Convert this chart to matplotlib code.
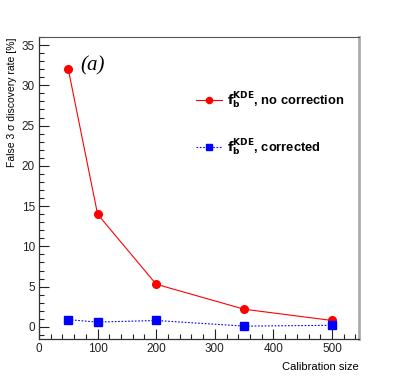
import numpy as np
import matplotlib.pyplot as plt
from matplotlib.ticker import MultipleLocator

# calibration sizes and false 3 sigma discovery rate [%]
calib = [50, 100, 200, 350, 500]
rate_nocorr = [32.0, 14.0, 5.3, 2.2, 0.8]
rate_corr = [0.9, 0.6, 0.8, 0.1, 0.2]

plt.rcParams['font.family'] = ['Liberation Sans', 'DejaVu Sans']

fig = plt.figure(figsize=(3.99, 3.77), dpi=100)
ax = fig.add_axes([0.0977, 0.1008, 0.802, 0.801])

ax.plot(calib, rate_nocorr, color='#ff0000', lw=0.8, marker='o', ms=5.5,
        label=r'$\mathbf{f_b^{KDE}}$, no correction')
ax.plot(calib, rate_corr, color='#0000ff', lw=0.8, ls=(0, (1.5, 1.5)),
        marker='s', ms=5.5, label=r'$\mathbf{f_b^{KDE}}$, corrected')

ax.set_xlim(0, 546)
ax.set_ylim(-1.5, 36)

ax.xaxis.set_major_locator(MultipleLocator(100))
ax.xaxis.set_minor_locator(MultipleLocator(20))
ax.yaxis.set_major_locator(MultipleLocator(5))
ax.yaxis.set_minor_locator(MultipleLocator(1))
ax.tick_params(which='both', direction='in', top=False, right=False,
               labelsize=8.5, pad=3, colors='#222222')
ax.tick_params(which='major', length=7, width=0.8)
ax.tick_params(which='minor', length=3.5, width=0.8)

for s in ['left', 'bottom']:
    ax.spines[s].set_color('#333333')
    ax.spines[s].set_linewidth(0.9)
ax.spines['top'].set_color('#555555')
ax.spines['top'].set_linewidth(0.8)
ax.spines['right'].set_color('#aaaaaa')
ax.spines['right'].set_linewidth(2)

ax.set_xlabel('Calibration size', fontsize=8, loc='right', labelpad=5)
ax.set_ylabel(u'False 3 \u03c3 discovery rate [%]', fontsize=7.5, loc='top', labelpad=3)

ax.text(0.13, 0.905, '(a)', transform=ax.transAxes, fontsize=15,
        style='italic', family='Liberation Serif', va='center')

leg = ax.legend(loc='upper left', bbox_to_anchor=(0.49, 0.822), frameon=False,
                borderaxespad=0, borderpad=0,
                handlelength=2.0, handletextpad=0.45, labelspacing=2.05,
                markerscale=0.8, prop={'weight': 'bold', 'size': 9.3})

plt.savefig('out.png', dpi=100)
